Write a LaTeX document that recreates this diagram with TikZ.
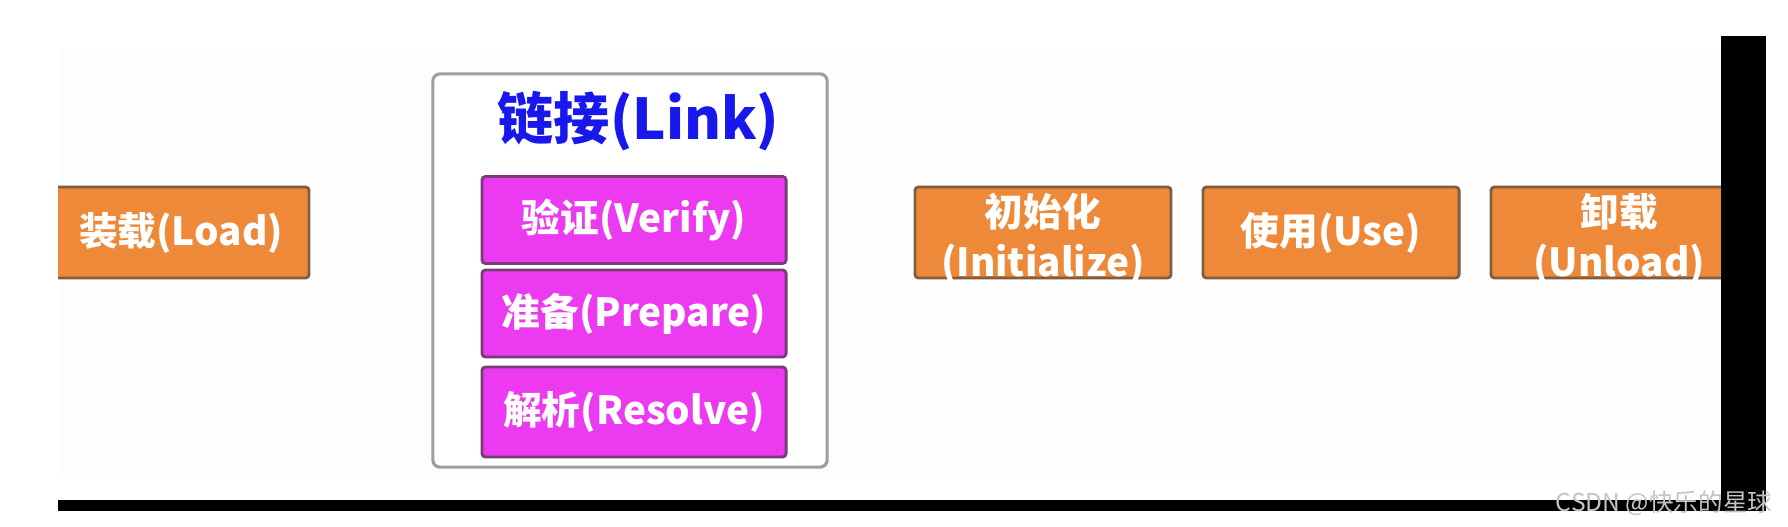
\documentclass[tikz,border=0pt]{standalone}
\usepackage{fontspec}
\setmainfont{Noto Sans CJK SC}
\usetikzlibrary{calc}

\definecolor{loadorange}{RGB}{237,137,56}
\definecolor{stepmagenta}{RGB}{236,58,240}
\definecolor{linkblue}{RGB}{24,24,236}
\definecolor{paper}{RGB}{253,253,253}
\definecolor{markgray}{RGB}{196,196,196}

\begin{document}
\begin{tikzpicture}[x=0.01cm, y=-0.01cm,
            phase/.style={draw=gray!50!loadorange!70!black, line width=0.8pt, fill=loadorange, rounded corners=1pt,
                minimum width=2.56cm, minimum height=0.91cm, inner sep=0pt, text=white, align=center,
                font=\fontsize{11}{14}\selectfont\bfseries},
            twoline/.style={phase, text height=24.8pt, text depth=0pt},
            substep/.style={phase, draw=gray!50!stepmagenta!65!black, fill=stepmagenta, minimum width=3.04cm, minimum height=0.87cm}]
            \useasboundingbox (0,0) rectangle (1788,526);
            \fill[paper] (59,48) rectangle (1721,478);
            \begin{scope}
                \clip (58,36) rectangle (1721,500);
                \node[phase] (load) at (181,232.5) {装载(Load)};
                \node[draw=gray!75, line width=0.9pt, fill=white, rounded corners=2pt,
                    minimum width=3.94cm, minimum height=3.93cm] (link) at (630,270.5) {};
                \node[text=linkblue, font=\fontsize{16}{18}\selectfont\bfseries, inner sep=0pt] (linktitle) at (638.5,121) {链接(Link)};
                \node[substep] (verify) at (634,220) {验证(Verify)};
                \node[substep] (prepare) at (634,313.5) {准备(Prepare)};
                \node[substep, minimum height=0.9cm] (resolve) at (634,412) {解析(Resolve)};
                \node[twoline] (init) at (1043,232.5) {初始化\\(Initialize)};
                \node[phase] (use) at (1331,232.5) {使用(Use)};
                \node[twoline] (unload) at (1619,232.5) {卸载\\(Unload)};
            \end{scope}
            \fill[black] (1721,36) rectangle (1766,511);
            \fill[black] (58,500) rectangle (1766,511);
            \node[anchor=east, text=markgray, font=\fontsize{7}{8}\selectfont, inner sep=0pt] (mark) at (1773,503) {CSDN @快乐的星球};
\end{tikzpicture}
\end{document}
